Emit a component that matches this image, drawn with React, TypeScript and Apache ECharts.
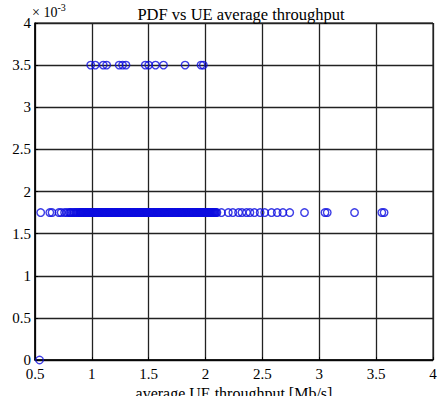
import React, { useEffect, useRef } from "react";
import * as echarts from "echarts";

// Throughput levels (Mb/s) of UEs whose PDF value is 3.5e-3
const upperThroughput = [0.99, 1.03, 1.1, 1.13, 1.24, 1.27, 1.3, 1.47, 1.5, 1.56, 1.63, 1.82, 1.96, 1.98];

// Throughput levels (Mb/s) of UEs whose PDF value is 1.75e-3
const lowerThroughput = [
  0.55, 0.63, 0.65, 0.71, 0.73, 0.76, 0.78,
  0.80, 0.81, 0.82, 0.835, 0.845, 0.855, 0.865, 0.875, 0.885, 0.895,
  0.900, 0.904, 0.909, 0.915, 0.921, 0.925, 0.929, 0.935, 0.940, 0.946, 0.950, 0.954, 0.961, 0.965, 0.969, 0.975, 0.981, 0.985, 0.990, 0.996,
  1.001, 1.005, 1.010, 1.014, 1.020, 1.026, 1.030, 1.035, 1.039, 1.045, 1.051, 1.055, 1.060, 1.064, 1.070, 1.075, 1.080, 1.086, 1.090, 1.094,
  1.100, 1.106, 1.111, 1.115, 1.119, 1.125, 1.130, 1.136, 1.140, 1.145, 1.149, 1.155, 1.161, 1.165, 1.170, 1.174, 1.180, 1.185, 1.191, 1.195,
  1.200, 1.204, 1.210, 1.216, 1.220, 1.225, 1.229, 1.235, 1.241, 1.245, 1.250, 1.256, 1.260, 1.264, 1.270, 1.275, 1.281, 1.285, 1.290, 1.295,
  1.301, 1.305, 1.309, 1.315, 1.320, 1.326, 1.330, 1.334, 1.340, 1.345, 1.351, 1.355, 1.360, 1.366, 1.370, 1.374, 1.380, 1.385, 1.390, 1.396,
  1.400, 1.405, 1.411, 1.415, 1.420, 1.424, 1.430, 1.436, 1.440, 1.445, 1.450, 1.454, 1.460, 1.465, 1.471, 1.475, 1.480, 1.486, 1.490, 1.494,
  1.500, 1.506, 1.510, 1.515, 1.519, 1.525, 1.531, 1.535, 1.540, 1.544, 1.550, 1.555, 1.561, 1.565, 1.570, 1.576, 1.580, 1.584, 1.590, 1.595,
  1.601, 1.605, 1.610, 1.614, 1.620, 1.625, 1.630, 1.636, 1.640, 1.645, 1.649, 1.655, 1.660, 1.666, 1.670, 1.675, 1.679, 1.685, 1.691, 1.695,
  1.700, 1.704, 1.710, 1.715, 1.721, 1.725, 1.730, 1.734, 1.740, 1.746, 1.750, 1.755, 1.759, 1.765, 1.770, 1.776, 1.780, 1.785, 1.789, 1.795,
  1.800, 1.806, 1.810, 1.814, 1.820, 1.825, 1.831, 1.835, 1.840, 1.844, 1.850, 1.856, 1.860, 1.865, 1.869, 1.875, 1.880, 1.886, 1.890, 1.894,
  1.900, 1.905, 1.911, 1.915, 1.920, 1.924, 1.930, 1.935, 1.941, 1.945, 1.950, 1.954, 1.960, 1.966, 1.970, 1.975, 1.980, 1.984, 1.990, 1.996,
  2.000, 2.005, 2.010, 2.016, 2.020, 2.025, 2.030, 2.036, 2.041, 2.045, 2.050, 2.056, 2.061, 2.066, 2.072, 2.078, 2.085, 2.092, 2.100,
  2.14, 2.20, 2.24, 2.29, 2.32, 2.36, 2.39, 2.43, 2.48, 2.52, 2.58, 2.63, 2.68, 2.74, 2.87, 3.05, 3.07, 3.31,
  3.55, 3.57,
];

// Single UE with zero PDF
const zeroThroughput = [0.54];

const UPPER_PDF = 3.5;
const LOWER_PDF = 1.75;
const ZERO_PDF = 0;

const xTicks = [0.5, 1, 1.5, 2, 2.5, 3, 3.5, 4];
const yTicks = [0, 0.5, 1, 1.5, 2, 2.5, 3, 3.5, 4];

const SERIF = "'Liberation Serif', 'DejaVu Serif', serif";
const MARK = "#0c0ce0";

export default function App() {
  const ref = useRef<HTMLDivElement>(null);

  useEffect(() => {
    if (!ref.current) return;
    const chart = echarts.init(ref.current, undefined, { renderer: "svg" });

    const points = [
      ...upperThroughput.map((x) => [x, UPPER_PDF]),
      ...lowerThroughput.map((x) => [x, LOWER_PDF]),
      ...zeroThroughput.map((x) => [x, ZERO_PDF]),
    ];

    const axisLabel = { color: "#000", fontFamily: SERIF, fontSize: 15 };

    chart.setOption({
      animation: false,
      backgroundColor: "#fff",
      title: {
        text: "PDF vs UE average throughput",
        left: 236,
        textAlign: "center",
        top: 1,
        textStyle: { color: "#000", fontFamily: SERIF, fontSize: 16.5, fontWeight: "normal" },
      },
      grid: {
        left: 35,
        right: 6,
        top: 23,
        bottom: 36,
        outerBoundsMode: "none",
        containLabel: false,
        show: true,
        borderColor: "#000",
        borderWidth: 1,
      },
      xAxis: {
        type: "value",
        min: xTicks[0],
        max: xTicks[xTicks.length - 1],
        interval: 0.5,
        name: "average UE throughput [Mb/s]",
        nameLocation: "middle",
        nameGap: 25,
        nameTextStyle: { color: "#000", fontFamily: SERIF, fontSize: 16 },
        axisLine: { show: true, lineStyle: { color: "#000", width: 1.5 } },
        axisTick: { show: true, inside: true, length: 3, lineStyle: { color: "#000" } },
        axisLabel: { ...axisLabel, margin: 6 },
        splitLine: { show: true, lineStyle: { color: "#222", width: 1.3 } },
      },
      yAxis: {
        type: "value",
        min: yTicks[0],
        max: yTicks[yTicks.length - 1],
        interval: 0.5,
        name: "PDF",
        nameLocation: "middle",
        nameGap: 24,
        nameRotate: 90,
        nameTextStyle: { color: "#000", fontFamily: SERIF, fontSize: 15 },
        axisLine: { show: true, lineStyle: { color: "#000", width: 1.5 } },
        axisTick: { show: true, inside: true, length: 3, lineStyle: { color: "#000" } },
        axisLabel: { ...axisLabel, margin: 4 },
        splitLine: { show: true, lineStyle: { color: "#222", width: 1.3 } },
      },
      graphic: [
        {
          type: "text",
          left: 32,
          top: 2,
          style: {
            text: "{a|× 10}{b|-3}",
            rich: {
              a: { fontFamily: SERIF, fontSize: 14, fill: "#000", verticalAlign: "bottom" },
              b: { fontFamily: SERIF, fontSize: 10, fill: "#000", verticalAlign: "top", padding: [0, 0, 7, 0] },
            },
          },
        },
      ],
      series: [
        {
          type: "scatter",
          data: points,
          symbol: "circle",
          symbolSize: 7.5,
          itemStyle: { color: "rgba(0,0,0,0)", borderColor: MARK, borderWidth: 1.4 },
          clip: false,
        },
      ],
    });

    return () => chart.dispose();
  }, []);

  return <div ref={ref} style={{ width: 439, height: 396, position: "absolute", left: 0, top: 0 }} />;
}
